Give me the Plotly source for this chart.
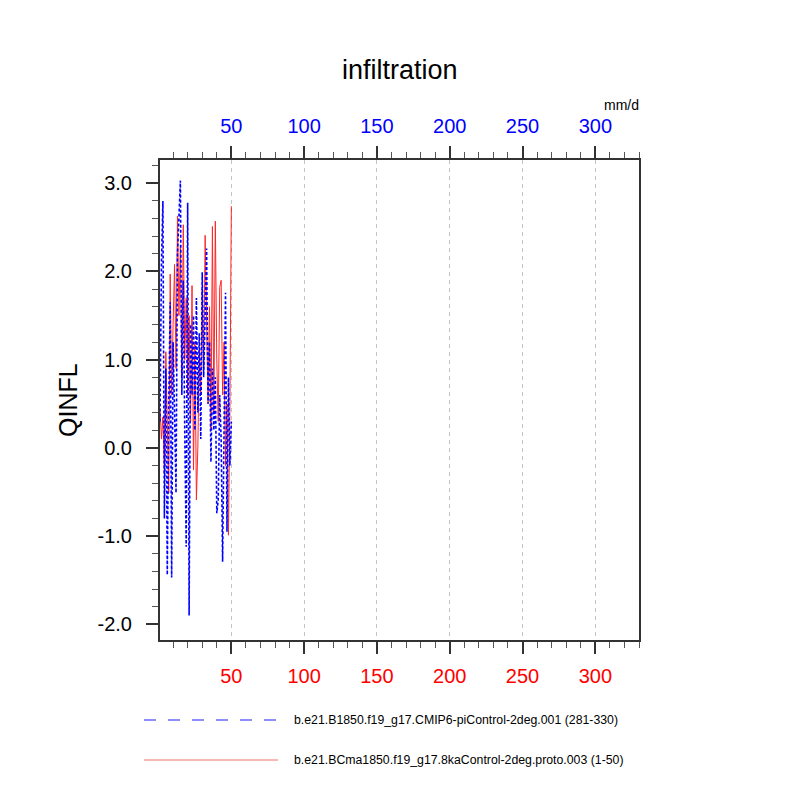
import plotly.graph_objects as go

# years 1..50 of each run
years = list(range(1, 51))

# b.e21.B1850.f19_g17.CMIP6-piControl-2deg.001 (281-330)
qinfl_picontrol = [
    0.30, 2.10, 2.80, -0.80, 0.90, -1.44, 0.50, 1.65, -1.47, 1.20,
    0.40, -0.51, 2.20, 2.60, 3.03, 0.60, 1.90, 0.20, -1.12, 2.78,
    -1.90, 1.40, 0.60, 1.50, 0.20, 1.70, 0.40, 1.30, 0.10, 1.99,
    0.80, 1.50, 2.26, 0.50, 1.20, -0.16, 0.90, 0.20, 0.80, -0.74,
    -0.59, 0.60, 0.10, -1.29, 0.40, 1.76, -0.95, 0.80, -0.20, 0.30,
]

# b.e21.BCma1850.f19_g17.8kaControl-2deg.proto.003 (1-50)
qinfl_8ka = [
    0.45, 0.10, 0.35, -0.30, 1.09, 0.20, -0.51, 1.97, 0.60, 1.40,
    2.08, 0.90, 2.63, 1.50, 2.30, 0.80, 2.53, 1.00, 1.70, 0.60,
    1.50, 0.30, 1.84, -0.25, 1.20, -0.59, 0.01, 1.10, 0.60, 1.80,
    0.90, 2.41, 1.30, 0.50, 1.60, 0.20, 2.51, 0.40, 2.57, 1.00,
    0.30, 1.82, 1.90, 0.60, 1.20, -0.20, 0.50, -0.99, 0.40, 2.74,
]

case_names = [
    "b.e21.B1850.f19_g17.CMIP6-piControl-2deg.001 (281-330)",
    "b.e21.BCma1850.f19_g17.8kaControl-2deg.proto.003 (1-50)",
]

x_range = [1, 330]
y_range = [-2.178, 3.264]
y_ticks = [-2, -1, 0, 1, 2, 3]
y_ticktext = ["-2.0", "-1.0", "0.0", "1.0", "2.0", "3.0"]

FONT = "Liberation Sans, Arial, sans-serif"
AX = "#333333"

# plot frame on screen (page has 8px body margin)
L, R, T, B = 160, 639, 160, 640


def px(x):
    return (x - L) / (R - L)


def py(y):
    return (B - y) / (B - T)


fig = go.Figure()

fig.add_trace(go.Scatter(
    x=years, y=qinfl_8ka, xaxis="x", yaxis="y", mode="lines",
    line=dict(color="red", width=1), opacity=0.85, showlegend=False,
))
fig.add_trace(go.Scatter(
    x=years, y=qinfl_picontrol, xaxis="x2", yaxis="y", mode="lines",
    line=dict(color="blue", width=1.6, dash="3px,2px"), showlegend=False,
))

common_x = dict(
    range=x_range, tick0=0, dtick=50, ticks="outside", ticklen=12,
    tickwidth=1.5, tickcolor=AX, ticklabelstandoff=5,
    minor=dict(dtick=10, tick0=0, ticks="outside", ticklen=6,
               tickwidth=1, tickcolor="#555555"),
    showline=True, linecolor=AX, linewidth=2, zeroline=False,
)

fig.update_layout(
    width=800, height=800,
    paper_bgcolor="white", plot_bgcolor="white",
    margin=dict(l=L - 8, r=800 - R + 8, t=T - 8, b=800 - B + 8, autoexpand=False),
    font=dict(family=FONT, color="black"),
    xaxis=dict(
        **common_x, side="bottom", mirror=True,
        tickfont=dict(size=20, color="red"),
        showgrid=True, gridcolor="#c4c4c4", griddash="4px,4px", gridwidth=1,
    ),
    xaxis2=dict(
        **common_x, side="top", overlaying="x", anchor="y",
        tickfont=dict(size=20, color="blue"), showgrid=False,
    ),
    yaxis=dict(
        range=y_range, tickvals=y_ticks, ticktext=y_ticktext,
        ticks="outside", ticklen=12, tickwidth=1.5, tickcolor=AX,
        ticklabelstandoff=10,
        minor=dict(dtick=0.2, tick0=0, ticks="outside", ticklen=6,
                   tickwidth=1, tickcolor="#555555"),
        tickfont=dict(size=20, color="black"),
        showline=True, linecolor=AX, linewidth=2, mirror=True,
        showgrid=False, zeroline=False,
    ),
)

# title, units, y label
fig.add_annotation(text="infiltration", x=px(400), y=py(70), xref="paper", yref="paper",
                   showarrow=False, font=dict(size=27), xanchor="center", yanchor="middle")
fig.add_annotation(text="mm/d", x=px(641), y=py(105), xref="paper", yref="paper",
                   showarrow=False, font=dict(size=14), xanchor="right", yanchor="middle")
fig.add_annotation(text="QINFL", x=px(68), y=py(400), xref="paper", yref="paper",
                   showarrow=False, font=dict(size=25), textangle=-90,
                   xanchor="center", yanchor="middle")

# hand-made legend below the plot (NCL-style long line samples)
legend_rows = [
    (720, "#6a6aff", "12px,12px", 1.3, 276),
    (760, "#f07070", "solid", 1.0, 278),
]
for (ypos, col, dash, w, x1), name in zip(legend_rows, case_names):
    fig.add_shape(type="line", xref="paper", yref="paper",
                  x0=px(144), x1=px(x1), y0=py(ypos), y1=py(ypos),
                  line=dict(color=col, width=w, dash=dash))
    fig.add_annotation(text=name, x=px(292), y=py(ypos), xref="paper", yref="paper",
                       showarrow=False, font=dict(size=12.3), xanchor="left", yanchor="middle")

fig.write_html("out.html")
